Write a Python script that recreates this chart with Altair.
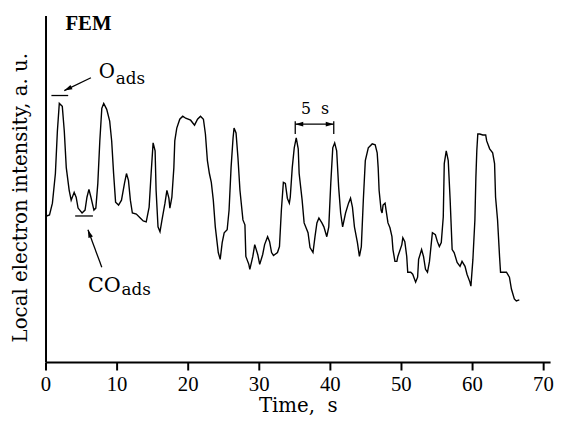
import altair as alt
import pandas as pd

# Trace (time in s, intensity in arbitrary units)
time_s = [0.14, 0.56, 0.97, 1.39, 1.67, 1.94, 2.36, 2.64, 2.92, 3.33, 3.61, 4.03, 4.31, 4.58, 5.14, 5.56,
          5.83, 6.11, 6.39, 6.81, 7.08, 7.36, 7.64, 7.92, 8.19, 8.61, 9.03, 9.31, 9.58, 9.86, 10.28, 10.69,
          11.11, 11.39, 11.67, 11.94, 12.22, 12.78, 13.33, 13.75, 14.17, 14.58, 14.86, 15.14, 15.42,
          15.56, 15.83, 16.11, 16.39, 16.81, 17.08, 17.36, 17.5, 17.78, 18.06, 18.19, 18.47, 18.89, 19.31,
          19.72, 20.42, 20.97, 21.39, 21.81, 22.22, 22.5, 22.78, 23.06, 23.33, 23.61, 23.89, 24.31, 24.58,
          24.86, 25.14, 25.56, 25.83, 26.11, 26.39, 26.53, 26.81, 27.08, 27.36, 27.78, 28.06, 28.19, 28.61,
          28.75, 29.17, 29.44, 29.86, 30.14,
          30.56, 30.83, 31.25, 31.53, 31.81, 32.08, 32.64, 32.92, 33.19, 33.47, 33.75, 34.03, 34.31, 34.44,
          34.72, 35.0, 35.28, 35.56, 35.69, 36.11, 36.39, 36.94, 37.22, 37.64, 37.92, 38.19, 38.47, 38.89,
          39.17, 39.58, 39.86, 40.14, 40.42, 40.69, 40.97, 41.25, 41.53, 41.81, 42.22, 42.64, 42.92, 43.19,
          43.47, 43.89, 44.17, 44.44, 44.72, 45.0, 45.42, 45.97,
          46.39, 46.67, 46.81, 46.94, 47.22, 47.36, 47.5, 47.78, 47.92, 48.19, 48.47, 48.75, 48.89, 49.17,
          49.44, 49.58, 50.14, 50.28, 50.56, 50.83, 50.97, 51.39, 51.67, 52.08, 52.36, 52.5, 52.92, 53.19,
          53.47, 53.75, 54.03, 54.31, 54.44, 54.86, 55.14, 55.42, 55.69, 55.97, 56.11, 56.39, 56.67, 56.94,
          57.22, 57.5,
          57.92, 58.33, 58.61, 59.03, 59.31, 59.72, 59.86, 60.14, 60.42, 60.56, 60.69, 60.83, 61.11, 61.53,
          61.94, 62.08, 62.5, 62.92, 63.19, 63.33, 63.61, 63.89, 64.03, 64.44, 64.86, 65.28, 65.56, 65.97,
          66.25, 66.67]

intensity = [148, 149, 161, 191, 234, 262, 259, 234, 197, 174, 164, 172, 167, 156, 151, 154,
             167, 175, 167, 154, 156, 181, 224, 257, 262, 256, 244, 224, 191, 162, 159, 164,
             181, 191, 184, 164, 151, 150, 146, 143, 142, 157, 191, 222, 214,
             174, 137, 132, 144, 161, 174, 166, 156, 167, 197, 224, 237, 246, 249,
             247, 245, 240, 246, 249, 246, 231, 204, 191, 182, 164, 137, 111, 104,
             121, 131, 134, 154, 197, 227, 237, 232, 207, 174, 144, 139, 107, 99,
             94, 107, 119, 109, 99,
             109, 119, 127, 122, 111, 108, 111, 117, 154, 182, 181, 166, 161, 167,
             197, 217, 227, 216, 191, 164, 141, 131, 116, 111, 127, 141, 146, 141,
             137, 127, 137, 181, 217, 222, 214, 177, 151, 137, 151, 161, 166, 157,
             137, 121, 107, 117, 164, 204, 217, 221,
             220, 212, 197, 174, 154, 151, 159, 161, 154, 141, 136, 127, 114, 102,
             102, 107, 119, 126, 122, 107, 91, 91, 89, 81, 86, 104, 114, 107,
             94, 91, 102, 122, 131, 129, 122, 117, 121, 147, 201, 214, 204, 164,
             114, 111,
             101, 97, 102, 97, 89, 81, 77, 104, 144, 187, 214, 231, 231, 230,
             230, 224, 216, 212, 201, 167, 144, 107, 91, 91, 91, 86, 74, 64,
             62, 63]

x_ticks = [0, 5, 10, 15, 20, 25, 30, 35, 40, 45, 50, 55, 60, 65, 70]

# Annotation geometry (in data units)
seg_t = [0.83, 4.17, 35.14, 35.14, 40.56, 6.39, 7.92]
seg_t2 = [3.19, 6.67, 40.56, 35.14, 40.56, 2.64, 5.97]
seg_v = [270, 148, 241, 231, 231, 288, 96]
seg_v2 = [270, 148, 241, 244, 244, 275, 134]

head_t = [2.64, 5.97, 35.14, 40.56]
head_v = [275, 134, 241, 241]
head_angle = [244, 340, 270, 90]

font = "DejaVu Serif"

df = pd.DataFrame({"t": time_s, "v": intensity})
segs = pd.DataFrame({"t": seg_t, "t2": seg_t2, "v": seg_v, "v2": seg_v2})
heads = pd.DataFrame({"t": head_t, "v": head_v, "a": head_angle})

xs = alt.Scale(domain=[0, 71], nice=False, zero=False)
ys = alt.Scale(domain=[0, 351], nice=False, zero=False)

line = alt.Chart(df).mark_line(color="black", strokeWidth=1.4).encode(
    x=alt.X("t:Q", scale=xs, axis=alt.Axis(
        title="Time,\u00a0\u00a0s", values=x_ticks,
        labelExpr="datum.value % 10 === 0 ? datum.label : ''",
        tickSize={"condition": {"test": "datum.value % 10 !== 0", "value": 5}, "value": 8},
        labelFont="Liberation Serif", labelFontSize=21, labelColor="black", labelPadding=4,
        titleFont=font, titleFontSize=20, titleFontWeight="normal", titleColor="black",
        titleBaseline="alphabetic", titleY=50,
        domainColor="black", domainWidth=2, tickColor="black", tickWidth=2, grid=False,
        labelFlush=False)),
    y=alt.Y("v:Q", scale=ys, axis=alt.Axis(
        title="Local electron intensity, a. u.", labels=False, ticks=False, grid=False,
        titleFont=font, titleFontSize=20, titleFontWeight="normal", titleColor="black",
        titleAngle=270, titleX=-25, titleY=184, titleAlign="center", titleBaseline="middle",
        domainColor="black", domainWidth=2)),
)

rules = alt.Chart(segs).mark_rule(color="black", strokeWidth=1.3).encode(
    x="t:Q", x2="t2:Q", y="v:Q", y2="v2:Q")

arrow_path = "M0,0L0.8,2.7L-0.8,2.7Z"
arrowheads = alt.Chart(heads).mark_point(
    shape=arrow_path, filled=True, color="black", size=36, opacity=1).encode(
    x="t:Q", y="v:Q", angle=alt.Angle("a:Q", scale=None))

def label(text, t, v, size, align="left", weight="normal", baseline="alphabetic", f=font):
    d = pd.DataFrame({"label": [text], "t": [t], "v": [v]})
    return alt.Chart(d).mark_text(
        font=f, fontSize=size, fontWeight=weight, align=align, baseline=baseline, color="black"
    ).encode(x="t:Q", y="v:Q", text="label:N")

texts = [
    label("FEM", 6.04, 342, 21, align="center", weight="bold", baseline="middle", f="Liberation Serif"),
    label("O", 7.5, 288, 20),
    label("ads", 9.9, 282, 17),
    label("CO", 5.97, 71, 21),
    label("ads", 10.7, 68, 17),
    label("5\u00a0\u00a0s", 37.92, 251, 16, align="center"),
]

chart = alt.layer(line, rules, arrowheads, *texts).properties(
    width=511, height=351,
    autosize=alt.AutoSizeParams(type="none"),
    padding={"left": 38, "top": 5, "right": 6, "bottom": 56},
    background="white",
).configure_view(stroke=None)

chart.save("out.html", embed_options={"renderer": "svg", "actions": False})
